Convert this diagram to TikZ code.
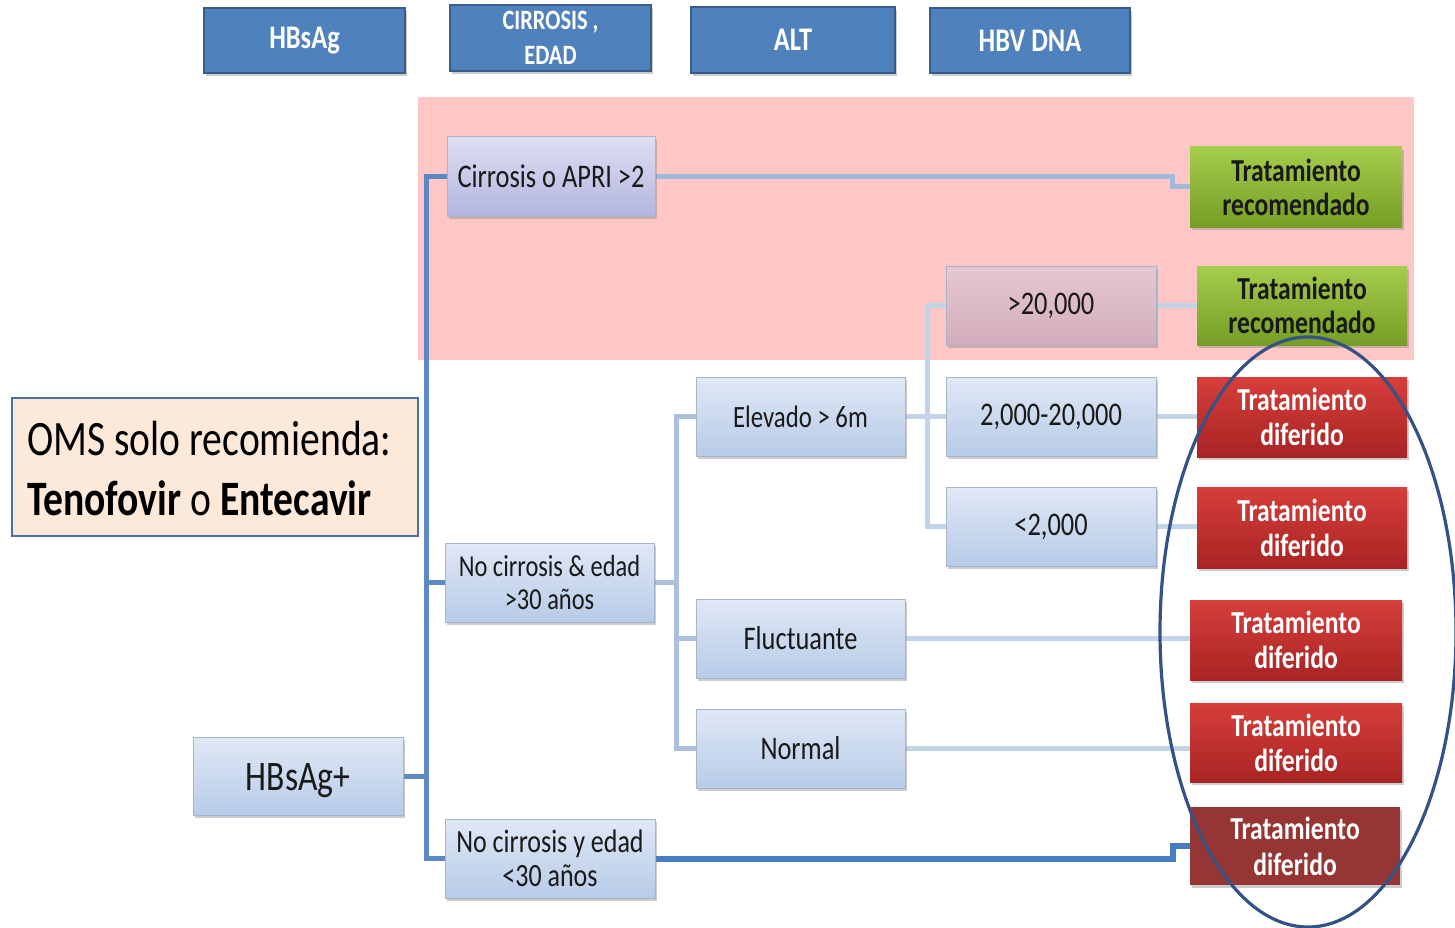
\documentclass[tikz,border=0pt]{standalone}
\usepackage{fontspec}
\setmainfont{Carlito}[FakeStretch=0.8]
\usetikzlibrary{shadows,backgrounds,shapes.geometric}
\definecolor{hdrfill}{RGB}{79,129,189}
\definecolor{hdrdraw}{RGB}{56,93,138}
\definecolor{lbT}{RGB}{224,232,246}
\definecolor{lbB}{RGB}{183,203,231}
\definecolor{lvT}{RGB}{222,222,242}
\definecolor{lvB}{RGB}{178,182,222}
\definecolor{pkT}{RGB}{230,200,210}
\definecolor{pkB}{RGB}{210,172,188}
\definecolor{grT}{RGB}{165,204,75}
\definecolor{grB}{RGB}{118,158,38}
\definecolor{rdT}{RGB}{214,62,58}
\definecolor{rdB}{RGB}{168,36,36}
\definecolor{dkred}{RGB}{150,54,52}
\definecolor{zone}{RGB}{255,198,198}
\definecolor{omsfill}{RGB}{253,233,217}
\definecolor{omsdraw}{RGB}{74,111,165}
\definecolor{bord}{RGB}{168,180,200}
\definecolor{ln1}{RGB}{92,136,196}
\definecolor{ln2}{RGB}{160,186,220}
\definecolor{ln3}{RGB}{172,192,222}
\definecolor{ln4}{RGB}{196,212,232}
\definecolor{ln5}{RGB}{70,125,192}
\definecolor{ringc}{RGB}{52,82,134}
\pgfdeclarelayer{background}
\pgfsetlayers{background,main}
\begin{document}
\begin{tikzpicture}[x=1pt,y=-1pt,
  box/.style={rectangle, inner sep=0pt, align=center},
  shad/.style={drop shadow={shadow xshift=2pt, shadow yshift=-3pt, opacity=0.4}},
  hdr/.style={box, fill=hdrfill, draw=hdrdraw, line width=2.5pt, shad, text=white,
    font=\bfseries\fontsize{33}{35}\selectfont},
  lb/.style={box, draw=bord, line width=1pt, top color=lbT, bottom color=lbB, shad,
    text=black!90, font=\fontsize{33}{34}\selectfont},
  lv/.style={lb, top color=lvT, bottom color=lvB},
  pk/.style={lb, top color=pkT, bottom color=pkB},
  outg/.style={box, top color=grT, bottom color=grB, shad, text=black!90,
    font=\bfseries\fontsize{32}{34}\selectfont},
  outr/.style={box, top color=rdT, bottom color=rdB, shad, text=white,
    font=\bfseries\fontsize{32}{35}\selectfont},
  outd/.style={box, fill=dkred, shad, text=white,
    font=\bfseries\fontsize{32}{36}\selectfont},
  c1/.style={draw=ln1, line width=5pt},
  c2/.style={draw=ln2, line width=5pt},
  c3/.style={draw=ln3, line width=5pt},
  c4/.style={draw=ln4, line width=4.5pt},
  c5/.style={draw=ln5, line width=6pt},
]
\useasboundingbox (0,0) rectangle (1455,928);
\begin{pgfonlayer}{background}
  \fill[white] (0,0) rectangle (1455,928);
  \fill[zone] (418,97) rectangle (1414,360);
\end{pgfonlayer}

% header
\node[hdr, minimum width=201pt, minimum height=65pt] (h1) at (304.5,40.5) {HBsAg};
\node[hdr, minimum width=201pt, minimum height=66pt, font=\bfseries\fontsize{28}{35}\selectfont] (h2) at (550.5,38) {CIRROSIS ,\\EDAD};
\node[hdr, minimum width=204pt, minimum height=66pt] (h3) at (793,40) {ALT};
\node[hdr, minimum width=200pt, minimum height=65pt] (h4) at (1030,40.5) {HBV DNA};

% OMS note
\node[box, fill=omsfill, draw=omsdraw, line width=1.5pt, minimum width=406pt, minimum height=138pt] (oms) at (215,467) {};
\node[anchor=west, inner sep=0pt, align=left, font=\fontsize{49.5}{60}\selectfont, text=black] (omst) at (27,468)
  {OMS solo recomienda:\\\textbf{Tenofovir} o \textbf{Entecavir}};

% decision nodes
\node[lb, minimum width=210pt, minimum height=78pt, font=\fontsize{42}{44}\selectfont] (hbs) at (298,776) {\raisebox{-14.5pt}[0pt][0pt]{HBsAg+}};
\node[lv, minimum width=208pt, minimum height=79pt] (cir) at (551,176.5) {Cirrosis o APRI >2};
\node[lb, minimum width=209pt, minimum height=79pt, font=\fontsize{30.5}{33}\selectfont] (nc1) at (549.5,582.5) {No cirrosis \& edad\\>30 años};
\node[lb, minimum width=210pt, minimum height=79pt, font=\fontsize{32.5}{34}\selectfont] (nc2) at (550,858.5) {No cirrosis y edad\\<30 años};
\node[lb, minimum width=209pt, minimum height=79pt, font=\fontsize{31}{33}\selectfont] (el) at (800.5,416.5) {Elevado > 6m};
\node[lb, minimum width=209pt, minimum height=79pt] (fl) at (800.5,638.5) {Fluctuante};
\node[lb, minimum width=209pt, minimum height=79pt] (no) at (800.5,748.5) {Normal};
\node[pk, minimum width=210pt, minimum height=79pt] (g20) at (1051,305.5) {>20,000};
\node[lb, minimum width=210pt, minimum height=79pt] (m20) at (1051,416.5) {2,000-20,000};
\node[lb, minimum width=210pt, minimum height=79pt] (l2) at (1051,526.5) {<2,000};

% outcomes
\node[outg, minimum width=212pt, minimum height=80pt] (rec1) at (1296,187) {Tratamiento\\recomendado};
\node[outg, minimum width=210pt, minimum height=79pt] (rec2) at (1302,305.5) {Tratamiento\\recomendado};
\node[outr, minimum width=210pt, minimum height=80pt] (d1) at (1302,417) {Tratamiento\\diferido};
\node[outr, minimum width=210pt, minimum height=81pt] (d2) at (1302,527.5) {Tratamiento\\diferido};
\node[outr, minimum width=212pt, minimum height=80pt] (d3) at (1296,640) {Tratamiento\\diferido};
\node[outr, minimum width=212pt, minimum height=79pt] (d4) at (1296,742.5) {Tratamiento\\diferido};
\node[outd, minimum width=210pt, minimum height=78pt] (dr) at (1295,846) {Tratamiento\\diferido};

% connectors
\begin{pgfonlayer}{background}
  \draw[c1] (hbs.east) -- ++(23,0) |- (cir.west);
  \draw[c1] (hbs.east) -- ++(23,0) |- (nc1.west);
  \draw[c1] (hbs.east) -- ++(23,0) |- (nc2.west);
  \draw[c2] (cir.east) -- ++(517,0) |- (rec1.west);
  \draw[c5] (nc2.east) -- ++(517,0) |- (dr.west);
  \draw[c3] (nc1.east) -- ++(22,0) |- (el.west);
  \draw[c3] (nc1.east) -- ++(22,0) |- (fl.west);
  \draw[c3] (nc1.east) -- ++(22,0) |- (no.west);
  \draw[c4] (el.east) -- ++(22,0) |- (g20.west);
  \draw[c4] (el.east) -- ++(22,0) |- (m20.west);
  \draw[c4] (el.east) -- ++(22,0) |- (l2.west);
  \draw[c4] (g20.east) -- (rec2.west);
  \draw[c4] (m20.east) -- (m20.east -| d1.west);
  \draw[c4] (l2.east) -- (l2.east -| d2.west);
  \draw[c4] (fl.east) -- (fl.east -| d3.west);
  \draw[c4] (no.east) -- (no.east -| d4.west);
\end{pgfonlayer}

% ring
\node[ellipse, draw=ringc, line width=3.2pt, minimum width=296pt, minimum height=590pt, inner sep=0pt] (ring) at (1308,632) {};
\end{tikzpicture}
\end{document}
